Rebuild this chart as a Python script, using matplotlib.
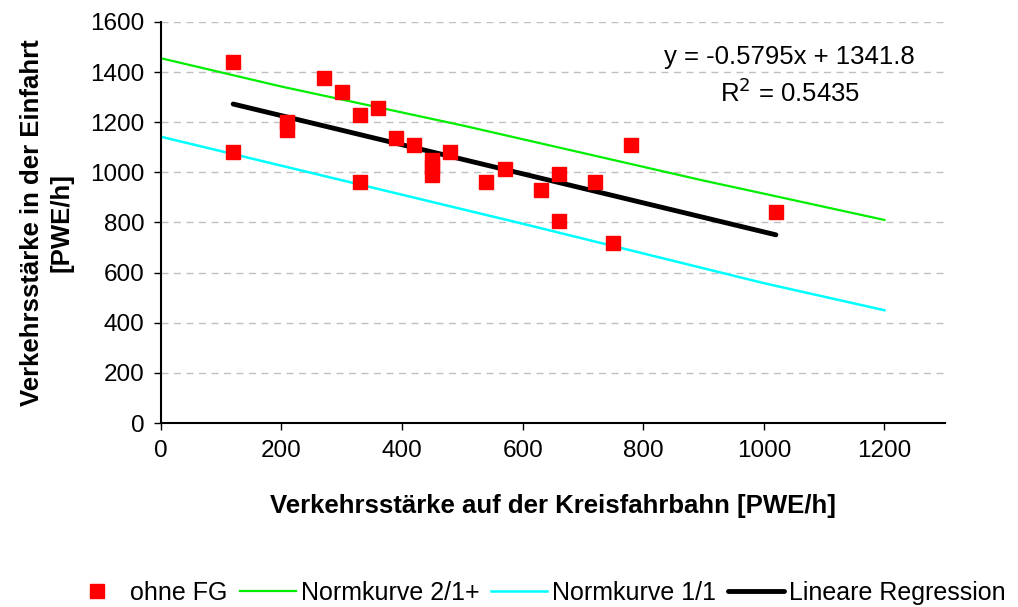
import numpy as np
import matplotlib
matplotlib.use("Agg")
import matplotlib.pyplot as plt

plt.rcParams['font.family'] = ['Liberation Sans', 'DejaVu Sans']

# Messwerte ohne FG
qk = [120, 120, 210, 210, 270, 300, 330, 360, 330, 390, 420, 450, 450, 450,
      480, 540, 570, 630, 660, 660, 720, 750, 780, 1020]
qe = [1440, 1080, 1200, 1170, 1375, 1320, 1230, 1255, 960, 1135, 1110, 1050,
      1020, 990, 1080, 960, 1015, 930, 995, 805, 960, 720, 1110, 840]

# Normkurven
norm21_x = [0, 200, 500, 900, 1000, 1200]
norm21_y = [1455, 1342, 1187, 967, 915, 810]
norm11_x = [0, 600, 1000, 1200]
norm11_y = [1142, 795, 558, 450]

# Regressionsgerade
slope, intercept = -0.5795, 1341.8
r2 = 0.5435
reg_x = np.array([120, 1020])

fig = plt.figure(figsize=(10.18, 6.07), dpi=100)
ax = fig.add_axes([0.158, 0.303, 0.770, 0.661])

ax.grid(axis='y', linestyle=(0, (5, 4)), color='#c0c0c0', linewidth=1)
ax.set_axisbelow(True)

ax.plot(norm21_x, norm21_y, color='#00ee00', lw=1.6, label='Normkurve 2/1+')
ax.plot(norm11_x, norm11_y, color='#00ffff', lw=1.8, label='Normkurve 1/1')
ax.plot(reg_x, slope * reg_x + intercept, color='black', lw=3.5,
        solid_capstyle='round', label='Lineare Regression')
ax.plot(qk, qe, 's', color='#ff0000', markersize=10, mec='#ff0000',
        label='ohne FG', zorder=5)

ax.set_xlim(0, 1300)
ax.set_ylim(0, 1600)
ax.set_xticks(range(0, 1201, 200))
ax.set_yticks(range(0, 1601, 200))
ax.tick_params(direction='out', length=5, width=1, labelsize=17.5, pad=7)
for s in ['top', 'right']:
    ax.spines[s].set_visible(False)
for s in ['left', 'bottom']:
    ax.spines[s].set_linewidth(1.5)

ax.set_xlabel('Verkehrsstärke auf der Kreisfahrbahn [PWE/h]',
              fontsize=18.5, fontweight='bold')
ax.xaxis.set_label_coords(0.5, -0.178)
ax.set_ylabel('Verkehrsstärke in der Einfahrt\n[PWE/h]',
              fontsize=18.5, fontweight='bold', linespacing=1.25)
ax.yaxis.set_label_coords(-0.112, 0.5)

ax.text(1043, 1461, f'y = {slope}x + {intercept}', fontsize=18.5,
        ha='center', va='center')
ax.text(1043, 1317, f'R$^2$ = {r2}', fontsize=18.5, ha='center', va='center')

handles, labels = ax.get_legend_handles_labels()
order = [3, 0, 1, 2]
fig.legend([handles[i] for i in order], [labels[i] for i in order],
           loc='center', bbox_to_anchor=(0.528, 0.023), ncol=4,
           frameon=False, fontsize=18, handlelength=2.24,
           handletextpad=0.2, columnspacing=0.48, borderaxespad=0,
           borderpad=0)

fig.savefig('out.png', dpi=100)
